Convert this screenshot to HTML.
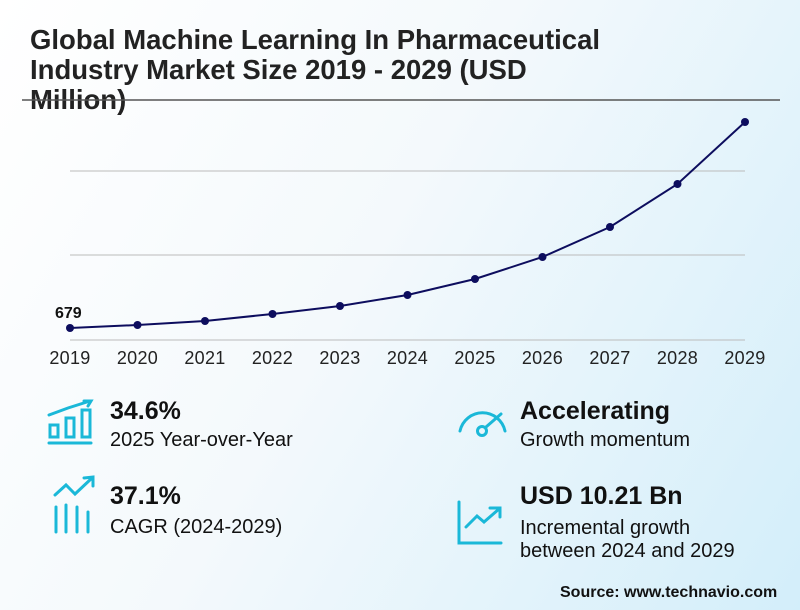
<!DOCTYPE html>
<html><head><meta charset="utf-8"><style>
html,body{margin:0;padding:0}
body{width:800px;height:610px;overflow:hidden;position:relative;font-family:"Liberation Sans",sans-serif;background:linear-gradient(120deg,#ffffff 0%,#f4f9fc 45%,#d3eefa 100%);}
.t{position:absolute;left:30px;top:25px;font-size:27.5px;font-weight:bold;line-height:30px;color:#222;width:700px}
.big{position:absolute;font-size:25px;font-weight:bold;color:#111}
.sm{position:absolute;font-size:20px;color:#111;line-height:23px}
</style></head><body>
<div class="t">Global Machine Learning In Pharmaceutical<br>Industry Market Size 2019 - 2029 (USD<br>Million)</div>
<svg width="800" height="610" style="position:absolute;left:0;top:0">
<line x1="22" y1="100" x2="780" y2="100" stroke="#555" stroke-width="1.5"/>
<g stroke="#bbb" stroke-width="1">
<line x1="70" y1="171" x2="745" y2="171"/>
<line x1="70" y1="255" x2="745" y2="255"/>
<line x1="70" y1="340" x2="745" y2="340"/>
</g>
<polyline fill="none" stroke="#0d0d5e" stroke-width="2" points="70,328 137.5,325 205,321 272.5,314 340,306 407.5,295 475,279 542.5,257 610,227 677.5,184 745,122"/>
<g fill="#0d0d5e">
<circle cx="70" cy="328" r="4"/><circle cx="137.5" cy="325" r="4"/><circle cx="205" cy="321" r="4"/><circle cx="272.5" cy="314" r="4"/><circle cx="340" cy="306" r="4"/><circle cx="407.5" cy="295" r="4"/><circle cx="475" cy="279" r="4"/><circle cx="542.5" cy="257" r="4"/><circle cx="610" cy="227" r="4"/><circle cx="677.5" cy="184" r="4"/><circle cx="745" cy="122" r="4"/>
</g>
<text x="55" y="318" font-size="16" font-weight="bold" font-family="Liberation Sans" fill="#111">679</text>
<g font-size="18" font-family="Liberation Sans" fill="#222" text-anchor="middle" letter-spacing="0.3">
<text x="70" y="364">2019</text><text x="137.5" y="364">2020</text><text x="205" y="364">2021</text><text x="272.5" y="364">2022</text><text x="340" y="364">2023</text><text x="407.5" y="364">2024</text><text x="475" y="364">2025</text><text x="542.5" y="364">2026</text><text x="610" y="364">2027</text><text x="677.5" y="364">2028</text><text x="745" y="364">2029</text>
</g>
<g fill="none" stroke="#1ab8d8" stroke-width="3" stroke-linecap="round">
<line x1="49" y1="443" x2="91" y2="443"/>
<rect x="50" y="425" width="8" height="12"/><rect x="66" y="418" width="8" height="19"/><rect x="82" y="410" width="8" height="27"/>
<polyline points="49,415 68,408 90,401"/><polyline points="84,401 91,401 88,406"/>
<polyline points="55,495 66,485 75,494 92,478"/><polyline points="84,478 93,477 93,486"/>
<line x1="56" y1="507" x2="56" y2="532"/><line x1="66" y1="505" x2="66" y2="532"/><line x1="77" y1="507" x2="77" y2="532"/><line x1="88" y1="512" x2="88" y2="532"/>
<path d="M460,431 A23,23 0 0 1 505,431"/>
<circle cx="482" cy="431" r="4.5"/><line x1="486" y1="427" x2="501" y2="414"/>
<polyline points="459,502 459,543 501,543"/>
<polyline points="466,527 477,516 484,522 499,509"/><polyline points="490,508 500,508 500,517"/>
</g>
</svg>
<div class="big" style="left:110px;top:397px">34.6%</div>
<div class="sm" style="left:110px;top:429px">2025 Year-over-Year</div>
<div class="big" style="left:110px;top:482px">37.1%</div>
<div class="sm" style="left:110px;top:516px">CAGR (2024-2029)</div>
<div class="big" style="left:520px;top:397px">Accelerating</div>
<div class="sm" style="left:520px;top:429px">Growth momentum</div>
<div class="big" style="left:520px;top:482px">USD 10.21 Bn</div>
<div class="sm" style="left:520px;top:517px">Incremental growth<br>between 2024 and 2029</div>
<div style="position:absolute;left:560px;top:584px;font-size:16px;font-weight:bold;color:#111">Source: www.technavio.com</div>
</body></html>
